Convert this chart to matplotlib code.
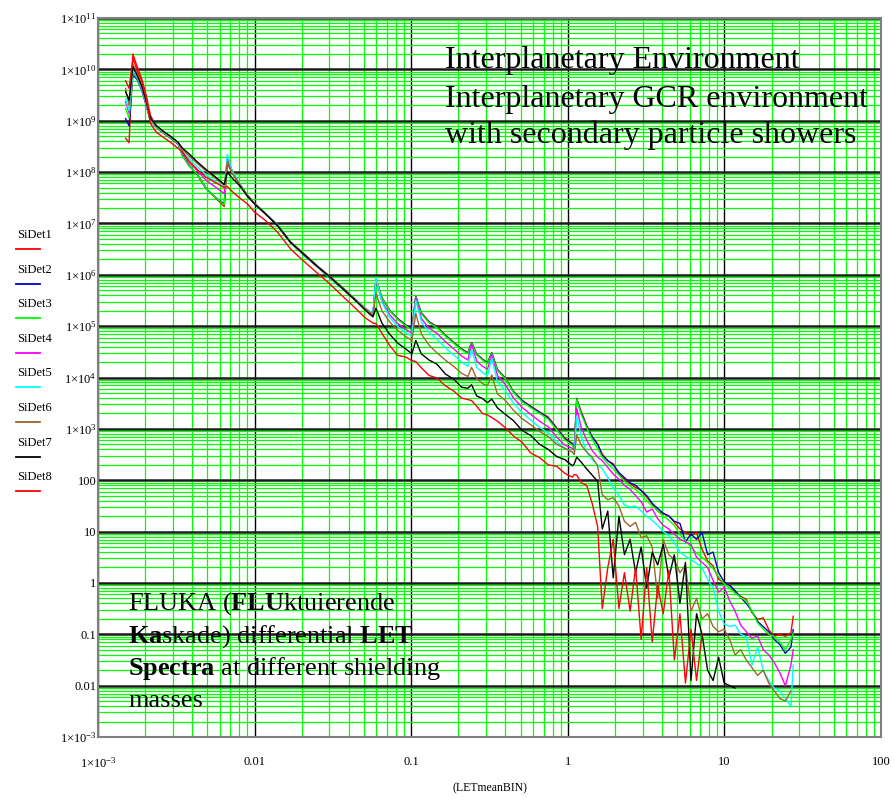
import numpy as np
import matplotlib
matplotlib.use("Agg")
import matplotlib.pyplot as plt
from matplotlib.lines import Line2D
from matplotlib.ticker import FixedLocator, LogLocator, NullFormatter

plt.rcParams["font.family"] = ["Liberation Serif", "DejaVu Serif"]
plt.rcParams["mathtext.fontset"] = "custom"
plt.rcParams["mathtext.rm"] = "Liberation Serif"
plt.rcParams["mathtext.bf"] = "Liberation Serif:bold"
plt.rcParams["mathtext.default"] = "regular"

W, H = 895, 799

# LET bin centres, shared by all detectors
let_bins = [
    0.00150, 0.00158, 0.00167, 0.00178, 0.00190, 0.00203, 0.00216, 0.00235, 0.00260, 0.00290,
    0.00325, 0.00345, 0.00380, 0.00430, 0.00490, 0.00560, 0.00640, 0.00670, 0.00720, 0.00800,
    0.00900, 0.0100, 0.0117, 0.0140, 0.0170, 0.0205, 0.0250, 0.0300, 0.0360, 0.0430,
    0.0510, 0.0570, 0.0596, 0.0650, 0.0730, 0.0820, 0.0920, 0.1010, 0.1070, 0.1160,
    0.1300, 0.1460, 0.1650, 0.1880, 0.2100, 0.2300, 0.2430, 0.2620, 0.2850, 0.3070,
    0.3270, 0.3550, 0.400, 0.450, 0.510, 0.580, 0.660, 0.750, 0.850, 0.960,
    1.070, 1.100, 1.140, 1.220, 1.320, 1.430, 1.550,
    1.66, 1.80, 1.95, 2.12, 2.30, 2.50, 2.71, 2.94, 3.19, 3.46,
    3.75, 4.07, 4.42, 4.79, 5.20, 5.64, 6.12, 6.64, 7.20, 7.81,
    8.47, 9.19, 9.97, 10.8, 11.7, 12.7, 13.8, 15.0, 16.3, 17.7,
    19.2, 20.8, 22.6, 24.5, 26.6, 27.5,
]

# log10 of the differential LET spectrum (None = no entry)
sidet1 = [
    8.66, 8.57, 10.30, 10.05, 9.82, 9.50, 9.11, 8.88, 8.76, 8.66,
    8.54, 8.35, 8.15, 7.95, 7.68, 7.50, 7.33, 8.17, 7.98, 7.76,
    7.54, 7.38, 7.19, 6.96, 6.63, 6.40, 6.17, 5.96, 5.75, 5.54,
    5.34, 5.22, 5.93, 5.56, 5.31, 5.15, 5.03, 4.94, 5.58, 5.26,
    5.09, 4.99, 4.83, 4.68, 4.56, 4.48, 4.68, 4.46, 4.36, 4.29,
    4.48, 4.16, 3.99, 3.73, 3.56, 3.44, 3.33, 3.23, 3.02, 2.82,
    2.72, 2.64, 3.59, 3.33, 3.07, 2.84, 2.71,
    2.51, 2.38, 2.32, 2.12, 2.02, 1.93, 1.86, 1.80, 1.67, 1.54,
    1.40, 1.34, 1.31, 1.18, 1.05, 0.98, 0.92, 0.98, 0.65, 0.43,
    0.33, 0.07, 0.00, -0.03, -0.19, -0.26, -0.32, -0.58, -0.71, -0.68,
    -0.91, -1.04, -1.00, -1.04, -0.97, -0.65,
]
sidet2 = [
    9.04, 8.90, 9.90, 9.80, 9.60, 9.30, 9.00, 8.88, 8.77, 8.67,
    8.55, 8.33, 8.13, 7.96, 7.68, 7.51, 7.38, 8.30, 8.00, 7.77,
    7.54, 7.38, 7.19, 6.96, 6.62, 6.39, 6.16, 5.95, 5.74, 5.53,
    5.33, 5.21, 5.92, 5.55, 5.30, 5.14, 5.02, 4.93, 5.58, 5.25,
    5.08, 4.98, 4.82, 4.67, 4.55, 4.47, 4.68, 4.45, 4.35, 4.28,
    4.48, 4.15, 3.98, 3.72, 3.55, 3.43, 3.32, 3.21, 3.00, 2.80,
    2.70, 2.62, 3.58, 3.30, 3.05, 2.85, 2.70,
    2.48, 2.38, 2.30, 2.15, 2.05, 1.95, 1.90, 1.80, 1.70, 1.55,
    1.45, 1.36, 1.30, 1.20, 1.16, 0.80, 0.95, 0.85, 0.98, 0.55,
    0.60, 0.20, 0.02, -0.05, -0.15, -0.28, -0.40, -0.55, -0.75, -0.85,
    -0.95, -1.10, -1.20, -1.37, -1.25, -0.91,
]
sidet3 = [
    9.24, 9.05, 9.95, 9.82, 9.62, 9.32, 9.00, 8.88, 8.77, 8.67,
    8.55, 8.33, 8.13, 7.96, 7.68, 7.51, 7.36, 8.32, 8.01, 7.78,
    7.55, 7.38, 7.19, 6.97, 6.62, 6.40, 6.16, 5.95, 5.75, 5.53,
    5.33, 5.22, 5.93, 5.55, 5.30, 5.13, 5.01, 4.92, 5.57, 5.24,
    5.07, 4.97, 4.81, 4.66, 4.54, 4.46, 4.67, 4.44, 4.34, 4.27,
    4.47, 4.14, 3.97, 3.71, 3.53, 3.41, 3.30, 3.19, 2.98, 2.78,
    2.68, 2.60, 3.57, 3.28, 3.03, 2.80, 2.62,
    2.45, 2.32, 2.22, 2.10, 1.98, 1.88, 1.82, 1.72, 1.60, 1.50,
    1.40, 1.30, 1.22, 1.12, 0.95, 0.82, 0.70, 0.58, 0.50, 0.40,
    0.28, 0.12, -0.02, -0.10, -0.20, -0.28, -0.35, -0.55, -0.78, -0.90,
    -1.00, -1.05, -1.15, -1.30, -1.10, -0.98,
]
sidet4 = [
    9.37, 9.15, 9.97, 9.85, 9.62, 9.33, 9.02, 8.89, 8.78, 8.68,
    8.56, 8.38, 8.20, 8.03, 7.84, 7.71, 7.58, 8.30, 8.00, 7.78,
    7.55, 7.39, 7.20, 6.97, 6.63, 6.41, 6.17, 5.96, 5.76, 5.55,
    5.35, 5.23, 5.92, 5.48, 5.22, 5.05, 4.94, 4.86, 5.55, 5.15,
    4.96, 4.86, 4.70, 4.55, 4.42, 4.34, 4.65, 4.32, 4.22, 4.16,
    4.45, 4.04, 3.86, 3.60, 3.42, 3.28, 3.15, 3.04, 2.84, 2.68,
    2.62, 2.58, 3.40, 3.02, 2.78, 2.58, 2.45,
    2.38, 2.25, 2.12, 2.02, 1.90, 1.82, 1.70, 1.58, 1.38, 1.44,
    1.25, 1.12, 1.05, 0.95, 0.85, 0.80, 0.75, 0.50, 0.40, 0.30,
    0.05, -0.18, -0.08, -0.35, -0.55, -0.82, -0.95, -1.08, -1.03, -1.30,
    -1.40, -1.55, -1.75, -2.00, -1.60, -1.30,
]
sidet5 = [
    9.43, 9.20, 9.98, 9.86, 9.65, 9.35, 9.02, 8.89, 8.78, 8.68,
    8.56, 8.40, 8.27, 8.10, 7.95, 7.82, 7.70, 8.34, 8.02, 7.78,
    7.55, 7.39, 7.20, 6.98, 6.64, 6.41, 6.18, 5.97, 5.76, 5.55,
    5.35, 5.24, 5.95, 5.46, 5.17, 4.99, 4.88, 4.80, 5.50, 5.09,
    4.88, 4.74, 4.58, 4.43, 4.30, 4.22, 4.55, 4.20, 4.10, 4.03,
    4.38, 3.92, 3.74, 3.50, 3.32, 3.17, 3.03, 2.92, 2.75, 2.62,
    2.55, 2.50, 3.25, 2.85, 2.55, 2.40, 2.30,
    2.22, 2.05, 1.85, 1.70, 1.52, 1.48, 1.50, 1.40, 1.30, 1.22,
    1.12, 1.00, 0.92, 0.78, 0.60, 0.52, 0.45, 0.38, 0.30, 0.07,
    -0.10, -0.55, -0.80, -0.85, -0.82, -1.00, -1.05, -1.60, -1.25, -1.70,
    -1.90, -2.05, -2.10, -2.25, -2.40, -1.60,
]
sidet6 = [
    9.63, 9.30, 10.10, 9.92, 9.70, 9.40, 9.05, 8.90, 8.79, 8.69,
    8.57, 8.44, 8.32, 8.17, 8.02, 7.88, 7.74, 8.20, 7.98, 7.77,
    7.55, 7.39, 7.20, 6.97, 6.64, 6.42, 6.18, 5.98, 5.77, 5.55,
    5.34, 5.22, 5.64, 5.30, 5.08, 4.92, 4.80, 4.72, 5.25, 4.85,
    4.63, 4.48, 4.34, 4.21, 4.08, 4.02, 4.20, 3.98, 3.88, 3.84,
    4.05, 3.68, 3.55, 3.36, 3.20, 3.08, 2.95, 2.85, 2.70, 2.62,
    2.55, 2.50, 2.88, 2.68, 2.55, 2.45, 2.28,
    1.72, 1.62, 1.66, 1.50, 1.20, 1.10, 1.18, 0.88, 0.92, 0.70,
    -0.30, 0.85, 0.55, 0.45, 0.20, 0.35, -0.55, -0.30, -0.70, -0.60,
    -0.85, -0.95, -0.90, -1.10, -1.40, -1.30, -1.50, -1.65, -1.80, -1.70,
    -1.95, -2.10, -2.25, -2.30, -2.10, None,
]
sidet7 = [
    9.56, 9.40, 10.05, 9.88, 9.68, 9.38, 9.05, 8.91, 8.80, 8.70,
    8.58, 8.47, 8.36, 8.20, 8.05, 7.91, 7.76, 8.00, 7.88, 7.74,
    7.53, 7.38, 7.19, 6.96, 6.63, 6.41, 6.17, 5.97, 5.75, 5.53,
    5.31, 5.18, 5.35, 5.06, 4.84, 4.67, 4.56, 4.46, 4.72, 4.46,
    4.34, 4.26, 4.07, 3.96, 3.81, 3.79, 3.86, 3.64, 3.59, 3.51,
    3.58, 3.41, 3.28, 3.16, 2.97, 2.87, 2.70, 2.60, 2.46, 2.40,
    2.28, 2.32, 2.45, 2.35, 2.22, 2.10, 1.98,
    1.05, 1.40, 0.10, 1.30, 0.55, 0.85, 0.20, 0.70, -0.10, 0.60,
    0.35, 0.75, 0.10, 0.55, -0.40, 0.40, -1.90, -0.60, -1.00, -1.70,
    -1.90, -1.45, -1.95, -2.00, -2.05, None, None, None, None, None,
    None, None, None, None, None, None,
]
sidet8 = [
    9.78, 9.63, 10.22, 9.98, 9.78, 9.45, 8.95, 8.78, 8.68, 8.58,
    8.46, 8.40, 8.22, 8.05, 7.90, 7.80, 7.70, 7.72, 7.62, 7.50,
    7.38, 7.22, 7.06, 6.83, 6.50, 6.27, 6.04, 5.83, 5.60, 5.38,
    5.16, 5.06, 5.05, 4.86, 4.62, 4.43, 4.40, 4.33, 4.31, 4.19,
    4.04, 3.99, 3.84, 3.73, 3.60, 3.57, 3.55, 3.44, 3.30, 3.27,
    3.22, 3.15, 3.02, 2.86, 2.74, 2.53, 2.44, 2.30, 2.27, 2.13,
    2.06, 2.11, 2.10, 1.95, 1.90, 1.55, 1.10,
    -0.50, 0.30, 0.85, -0.50, 0.20, -0.55, 0.30, -1.10, 0.30, -1.15,
    -0.05, -0.60, 0.25, -1.50, -0.60, -1.95, -0.90, -1.90, -1.00, None,
    None, None, None, None, None, None, None, None, None, None,
    None, None, None, None, None, None,
]

detectors = ["SiDet1", "SiDet2", "SiDet3", "SiDet4", "SiDet5", "SiDet6", "SiDet7", "SiDet8"]
series = [sidet1, sidet2, sidet3, sidet4, sidet5, sidet6, sidet7, sidet8]
colors = ["#ff0000", "#0000c8", "#00ff00", "#ff00ff", "#00ffff", "#a0642d", "#000000", "#ff0000"]

x_ticks = [1e-3, 1e-2, 1e-1, 1e0, 1e1, 1e2]
x_labels = ["1×10$^{-3}$", "0.01", "0.1", "1", "10", "100"]
y_ticks = [1e-3, 1e-2, 1e-1, 1e0, 1e1, 1e2, 1e3, 1e4, 1e5, 1e6, 1e7, 1e8, 1e9, 1e10, 1e11]
y_labels = ["1×10$^{-3}$", "0.01", "0.1", "1", "10", "100",
            "1×10$^{3}$", "1×10$^{4}$", "1×10$^{5}$", "1×10$^{6}$",
            "1×10$^{7}$", "1×10$^{8}$", "1×10$^{9}$", "1×10$^{10}$",
            "1×10$^{11}$"]


def fx(px):
    return px / W


def fy(py):
    return 1 - py / H


fig = plt.figure(figsize=(W / 100, H / 100), dpi=100)
ax = fig.add_axes([fx(98), fy(737), (881 - 98) / W, (737 - 18) / H])
ax.set_xscale("log")
ax.set_yscale("log")
ax.set_xlim(1e-3, 100)
ax.set_ylim(1e-3, 1e11)

for vals, col in zip(series, colors):
    ax.plot(let_bins, 10.0 ** np.array(vals, dtype=float), color=col, lw=1.0)

ax.xaxis.set_major_locator(FixedLocator(x_ticks))
ax.yaxis.set_major_locator(FixedLocator(y_ticks))
ax.xaxis.set_minor_locator(LogLocator(base=10, subs=np.arange(2, 10), numticks=200))
ax.yaxis.set_minor_locator(LogLocator(base=10, subs=np.arange(2, 10), numticks=200))
ax.xaxis.set_minor_formatter(NullFormatter())
ax.yaxis.set_minor_formatter(NullFormatter())
ax.set_xticklabels(x_labels)
ax.set_yticklabels(y_labels)

ax.set_axisbelow(True)
ax.xaxis.grid(True, which="minor", color="#00ff00", lw=0.9)
ax.yaxis.grid(True, which="minor", color="#00ff00", lw=0.9)
ax.xaxis.grid(True, which="major", color="#000000", lw=1.0)
ax.yaxis.grid(True, which="major", color="#1a1a1a", lw=1.8)

ax.tick_params(which="both", length=0)
ax.tick_params(axis="x", pad=14, labelsize=9)
ax.tick_params(axis="y", pad=1, labelsize=9)
for sp in ax.spines.values():
    sp.set_color("#808080")
    sp.set_linewidth(1.5)

ax.set_xlabel("(LETmeanBIN)", fontsize=8.5, labelpad=8)

# left-hand trace legend
for i, (name, col) in enumerate(zip(detectors, colors)):
    ty = 235 + i * 34.6
    fig.text(fx(17), fy(ty), name, fontsize=9, va="center", ha="left")
    fig.add_artist(Line2D([fx(16), fx(40)], [fy(ty + 14), fy(ty + 14)], color=col, lw=1.3))

# annotations
top_lines = ["Interplanetary Environment",
             "Interplanetary GCR environment",
             "with secondary particle showers"]
for t, by in zip(top_lines, [68, 107, 143]):
    fig.text(fx(445), fy(by), t, fontsize=23, va="baseline", ha="left")

bottom_lines = [r"FLUKA ($\mathbf{FLU}$ktuierende",
                r"$\mathbf{Ka}$skade) differential $\mathbf{LET}$",
                r"$\mathbf{Spectra}$ at different shielding",
                "masses"]
for t, by in zip(bottom_lines, [610, 643, 675, 707]):
    fig.text(fx(128), fy(by), t, fontsize=18.9, va="baseline", ha="left")

fig.savefig("out.png", dpi=100)
